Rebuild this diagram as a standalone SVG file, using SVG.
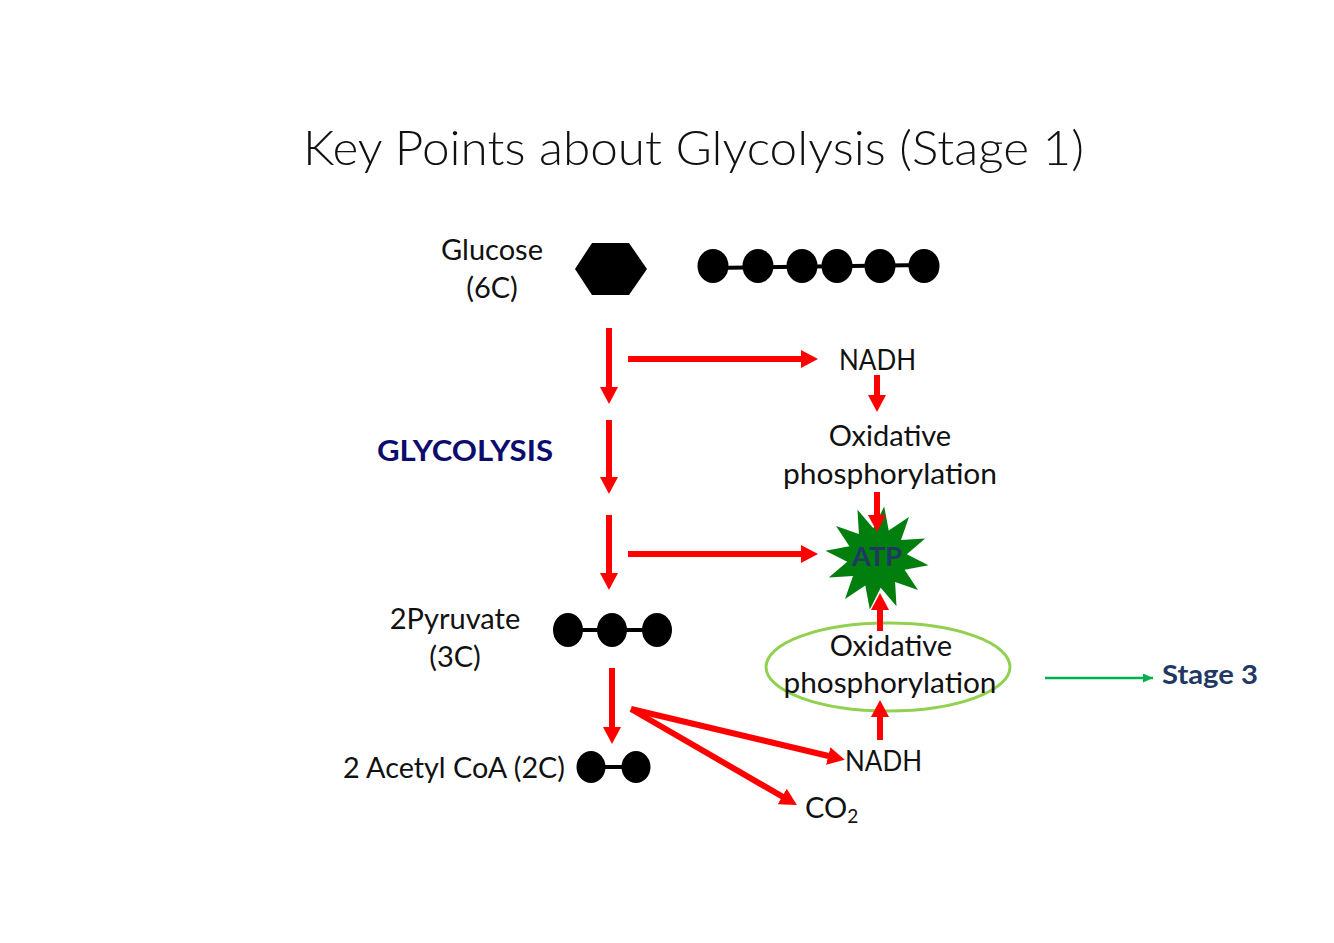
<svg xmlns="http://www.w3.org/2000/svg" width="1334" height="943" viewBox="0 0 1334 943">
<defs>
<style>
.t{font-family:Lato,"Open Sans","Liberation Sans",sans-serif;fill:#111;font-size:29px}
.c{text-anchor:middle}
.b{font-weight:bold}
.ar{stroke:#FF0000;stroke-width:6;fill:none;marker-end:url(#rh)}
.mol{fill:#000}
</style>
<marker id="rh" markerUnits="userSpaceOnUse" markerWidth="18" markerHeight="19" refX="9" refY="9" orient="auto" viewBox="0 0 18 18">
<path d="M0,0 L17,9 L0,18 z" fill="#FF0000"/>
</marker>
<marker id="gh" markerUnits="userSpaceOnUse" markerWidth="11" markerHeight="9" refX="10" refY="4.5" orient="auto" viewBox="0 0 11 9">
<path d="M0,0 L10,4.5 L0,9 z" fill="#00B050"/>
</marker>
</defs>
<rect width="1334" height="943" fill="#fff"/>
<text id="title" class="t" x="303" y="165" style="font-size:48px;font-weight:300" textLength="781" lengthAdjust="spacingAndGlyphs">Key Points about Glycolysis (Stage 1)</text>

<g id="glucose">
<text class="t c" x="492" y="260">Glucose</text>
<text class="t c" x="492" y="298">(6C)</text>
<polygon class="mol" points="575,269 592,243 629,243 647,269 629,295 592,295"/>
<path d="M713,268 L924,265" stroke="#000" stroke-width="4"/>
<ellipse class="mol" cx="713" cy="266" rx="15.5" ry="17"/>
<ellipse class="mol" cx="758" cy="266" rx="15.5" ry="17"/>
<ellipse class="mol" cx="802" cy="266" rx="15.5" ry="17"/>
<ellipse class="mol" cx="837" cy="266" rx="15.5" ry="17"/>
<ellipse class="mol" cx="880" cy="266" rx="15.5" ry="17"/>
<ellipse class="mol" cx="924" cy="266" rx="15.5" ry="17"/>
</g>

<g id="glycolysis">
<text class="t b" x="377" y="461" style="font-size:28px;fill:#0C0C6E" textLength="176" lengthAdjust="spacingAndGlyphs">GLYCOLYSIS</text>
</g>

<g id="pyruvate">
<text class="t c" x="455" y="629">2Pyruvate</text>
<text class="t c" x="455" y="667">(3C)</text>
<path d="M568,630 L657,630" stroke="#000" stroke-width="4"/>
<ellipse class="mol" cx="568" cy="630" rx="15" ry="17"/>
<ellipse class="mol" cx="612" cy="630" rx="15" ry="17"/>
<ellipse class="mol" cx="657" cy="630" rx="15" ry="17"/>
</g>

<g id="acetylcoa">
<text class="t" x="343" y="778" textLength="222" lengthAdjust="spacingAndGlyphs">2 Acetyl CoA (2C)</text>
<path d="M591,767 L636,767" stroke="#000" stroke-width="4"/>
<ellipse class="mol" cx="591" cy="767" rx="14.5" ry="16"/>
<ellipse class="mol" cx="636" cy="767" rx="14.5" ry="16"/>
</g>

<g id="nadh1">
<text class="t" x="839" y="370" textLength="77" lengthAdjust="spacingAndGlyphs">NADH</text>
</g>

<g id="oxphos1">
<text class="t c" x="890" y="446">Oxidative</text>
<text class="t c" x="890" y="484" textLength="214" lengthAdjust="spacingAndGlyphs">phosphorylation</text>
</g>

<g id="atp">
<polygon fill="#007F0E" points="836.0,526.0 858.9,534.0 857.5,509.8 873.3,528.2 884.2,506.5 888.7,530.4 909.0,517.0 901.0,539.9 925.2,538.5 906.8,554.3 928.5,565.2 904.6,569.7 918.0,590.0 895.1,582.0 896.5,606.2 880.7,587.8 869.8,609.5 865.3,585.6 845.0,599.0 853.0,576.1 828.8,577.5 847.2,561.7 825.5,550.8 849.4,546.3"/>
<text class="t c b" x="877" y="566" style="font-size:27px;fill:#1F3864">ATP</text>
</g>

<g id="oxphos2">
<ellipse cx="888" cy="667" rx="122" ry="44" fill="none" stroke="#92D050" stroke-width="3"/>
<text class="t c" x="891" y="656">Oxidative</text>
<text class="t c" x="890" y="693" textLength="213" lengthAdjust="spacingAndGlyphs">phosphorylation</text>
</g>

<g id="nadh2">
<text class="t" x="845" y="771" textLength="77" lengthAdjust="spacingAndGlyphs">NADH</text>
</g>

<g id="co2">
<text class="t" x="805" y="818">CO<tspan style="font-size:19px" dy="5">2</tspan></text>
</g>

<g id="stage3">
<text class="t b" x="1162" y="684" style="font-size:27px;fill:#1F3864" textLength="96" lengthAdjust="spacingAndGlyphs">Stage 3</text>
</g>

<g id="connectors">
<line class="ar" x1="609" y1="328" x2="609" y2="396"/>
<line class="ar" x1="609" y1="420" x2="609" y2="486"/>
<line class="ar" x1="609" y1="515" x2="609" y2="582"/>
<line class="ar" x1="612" y1="668" x2="612" y2="736"/>
<line class="ar" x1="628" y1="359" x2="810" y2="359"/>
<line class="ar" x1="628" y1="554" x2="810" y2="554"/>
<line class="ar" x1="877" y1="375" x2="877" y2="404"/>
<line class="ar" x1="877" y1="492" x2="877" y2="524"/>
<line class="ar" x1="880" y1="631" x2="880" y2="601"/>
<line class="ar" x1="880" y1="740" x2="880" y2="708"/>
<line class="ar" x1="631" y1="709" x2="837" y2="758"/>
<line class="ar" x1="631" y1="709" x2="790" y2="801"/>
<line x1="1045" y1="678" x2="1153" y2="678" stroke="#00B050" stroke-width="2.5" marker-end="url(#gh)"/>
</g>
</svg>
